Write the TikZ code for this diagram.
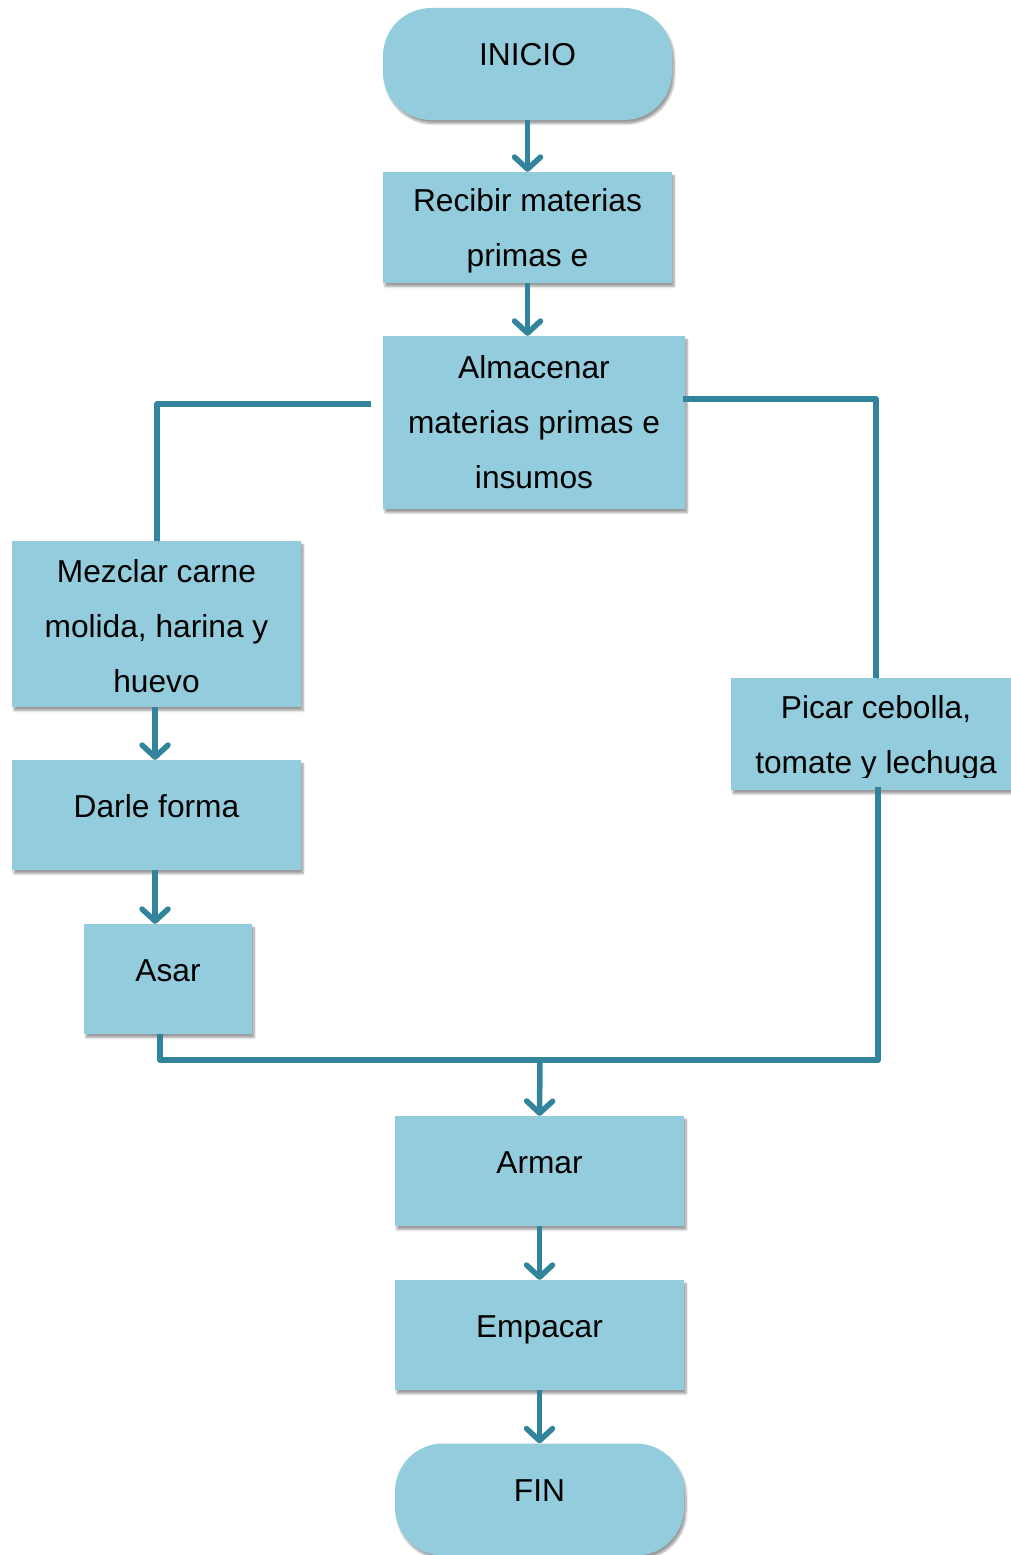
\documentclass[tikz,border=0pt]{standalone}
\usepackage{fontspec}
\setmainfont{Liberation Sans}
\usetikzlibrary{arrows.meta,calc,shadows.blur}
\definecolor{boxfill}{HTML}{93CDDD}
\definecolor{linecol}{HTML}{31849B}
\tikzset{
  label text/.style={inner sep=0pt, align=center, font=\fontsize{31.7pt}{55pt}\selectfont},
  box/.style={label text, fill=boxfill, draw=none,
    blur shadow={shadow xshift=2pt, shadow yshift=-3.5pt, shadow blur steps=8, shadow opacity=40}},
  procbox/.style={box, rectangle, minimum width=#1, minimum height=110pt},
  procbox/.default=289pt,
  oneline/.style={text height=23pt, text depth=19pt},
  terminal/.style={box, rectangle, rounded corners=48pt, minimum width=289pt, minimum height=112pt, oneline},
  conn/.style={draw=linecol, line width=5.5pt, line join=round,
    preaction={draw=black, opacity=0.18, transform canvas={shift={(1.5pt,-2.5pt)}}}},
  arr/.style={conn, -{Straight Barb[length=12pt, width=26pt, round]}},
}
\begin{document}
\begin{tikzpicture}[x=1pt, y=-1pt]
  \useasboundingbox (0,0) rectangle (1011,1555);
  \clip (0,0) rectangle (1011,1555);

  % process steps
  \node[terminal] (inicio) at (527.5,64) {INICIO};
  \node[procbox, minimum height=111pt] (recibir) at (527.5,227.5) {};
  \node[label text] (recibirtxt) at (527.5,231) {Recibir materias\\primas e};
  \node[procbox=302pt, minimum height=173pt] (alm) at (534,422.5) {Almacenar\\materias primas e\\insumos};
  \node[procbox, minimum height=166pt] (mez) at (156.5,624) {};
  \node[label text] (meztxt) at (156.5,626) {Mezclar carne\\molida, harina y\\huevo};
  \node[procbox, oneline] (darle) at (156.5,815) {Darle forma};
  \node[procbox=168pt, oneline] (asar) at (168,979) {Asar};
  \node[procbox=290pt, minimum height=112pt] (picar) at (876,734) {};
  \begin{scope}
    \clip (731,678) rectangle (1021,777);
    \node[label text] (picartxt) at (876,738) {Picar cebolla,\\tomate y lechuga};
  \end{scope}
  \node[procbox, oneline] (armar) at (539.5,1171) {Armar};
  \node[procbox, oneline] (empacar) at (539.5,1335) {Empacar};
  \node[terminal] (fin) at (539.5,1499.5) {FIN};

  % connectors
  \coordinate (almL) at (371,404);
  \coordinate (almR) at (683,399);
  \coordinate (mezOut) at ($(mez.south)+(-1.5,0)$);
  \coordinate (darleIn) at ($(darle.north)+(-1.5,0)$);
  \coordinate (darleOut) at ($(darle.south)+(-1.5,0)$);
  \coordinate (asarIn) at (darleOut |- asar.north);
  \coordinate (asarOut) at ($(asar.south)+(-8,0)$);
  \coordinate (picarOut) at ($(picar.south)+(2,-3)$);
  \coordinate (join) at (540,1060);

  \draw[arr] (inicio.south) -- (recibir.north);
  \draw[arr] (recibir.south) -- (recibir.south |- alm.north);
  \draw[conn] (almL) -| ($(mez.north)+(0.5,0)$);
  \draw[conn] (almR) -| (picar.north);
  \draw[arr] (mezOut) -- (darleIn);
  \draw[arr] (darleOut) -- (asarIn);
  \draw[conn] (asarOut) |- (join) -| (picarOut);
  \draw[arr] (join) -- (armar.north);
  \draw[arr] (armar.south) -- (empacar.north);
  \draw[arr] (empacar.south) -- (fin.north);
\end{tikzpicture}
\end{document}
